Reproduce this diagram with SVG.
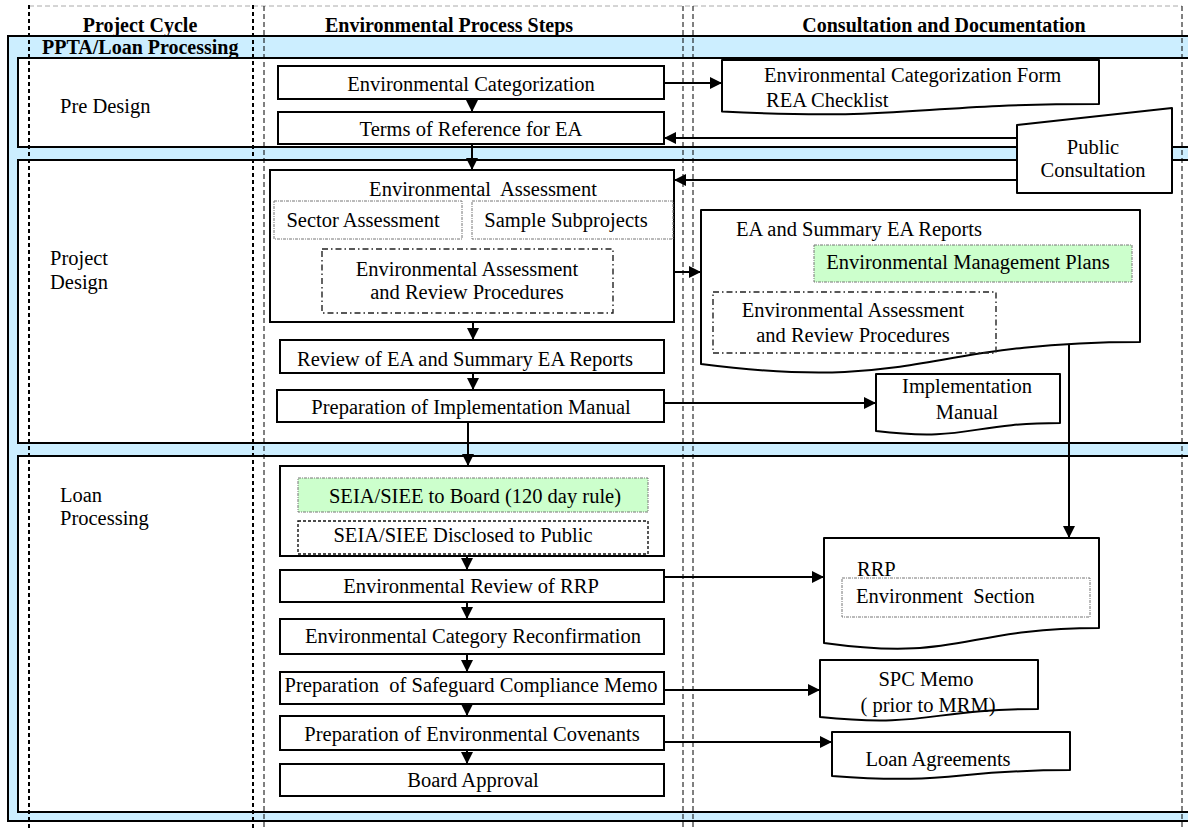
<svg xmlns="http://www.w3.org/2000/svg" width="1188" height="829" viewBox="0 0 1188 829">
  <style>
    .t { font-family: "Liberation Serif", "Times New Roman", serif; font-size: 20.5px; fill: #000; }
    .c { text-anchor: middle; }
    .h { font-weight: bold; font-size: 20px; }
    .band { fill: #cceeff; stroke: #000; stroke-width: 2; }
    .lane { fill: #fff; stroke: #000; stroke-width: 2; }
    .box { fill: #fff; stroke: #000; stroke-width: 2; }
    .doc { fill: #fff; stroke: #000; stroke-width: 2; stroke-linejoin: round; }
    .dot { fill: none; stroke: #777; stroke-width: 1; stroke-dasharray: 3 1 1 1; }
    .dotg { fill: #ccffcc; stroke: #777; stroke-width: 1; stroke-dasharray: 3 1 1 1; }
    .dash { fill: none; stroke: #222; stroke-width: 1.4; stroke-dasharray: 6 3 1.5 3; }
    .dash2 { fill: none; stroke: #111; stroke-width: 1.4; stroke-dasharray: 3 2; }
    .vthick { stroke: #000; stroke-width: 2; stroke-dasharray: 4 3; fill: none; }
    .vthin { stroke: #000; stroke-width: 1; stroke-dasharray: 5 3; fill: none; }
    .conn { stroke: #000; stroke-width: 2; fill: none; }
  </style>
  <defs>
    <marker id="arr" markerUnits="userSpaceOnUse" markerWidth="12" markerHeight="12" refX="12" refY="6" orient="auto">
      <path d="M0,0 L12,6 L0,12 Z" fill="#000"/>
    </marker>
  </defs>

  <!-- swimlane frame -->
  <g id="frame">
    <rect class="band" x="8" y="36" width="1200" height="785"/>
    <rect class="lane" x="18" y="58" width="1200" height="89"/>
    <rect class="lane" x="18" y="160" width="1200" height="283"/>
    <rect class="lane" x="18" y="456" width="1200" height="356"/>
    <text class="t h" x="42" y="54">PPTA/Loan Processing</text>
  </g>

  <!-- column headers -->
  <g id="headers">
    <line x1="29" y1="6" x2="1182" y2="6" stroke="#aaa" stroke-width="1" stroke-dasharray="5 3"/>
    <text class="t h c" x="140" y="32">Project Cycle</text>
    <text class="t h c" x="449" y="32">Environmental Process Steps</text>
    <text class="t h c" x="944" y="32">Consultation and Documentation</text>
  </g>

  <!-- stage labels -->
  <g id="stage-pre-design"><text class="t" x="60" y="113">Pre Design</text></g>
  <g id="stage-project-design">
    <text class="t" x="50" y="265">Project</text>
    <text class="t" x="50" y="289">Design</text>
  </g>
  <g id="stage-loan-processing">
    <text class="t" x="60" y="502">Loan</text>
    <text class="t" x="60" y="525">Processing</text>
  </g>

  <!-- process steps -->
  <g id="env-categorization">
    <rect class="box" x="278" y="66" width="386" height="33"/>
    <text class="t c" x="471" y="91">Environmental Categorization</text>
  </g>
  <g id="terms-of-reference">
    <rect class="box" x="278" y="112" width="386" height="32"/>
    <text class="t c" x="471" y="136">Terms of Reference for EA</text>
  </g>
  <g id="env-assessment">
    <rect class="box" x="270" y="170" width="404" height="152"/>
    <text class="t c" x="483" y="196" xml:space="preserve">Environmental  Assessment</text>
    <rect class="dot" x="274" y="201" width="188" height="38"/>
    <text class="t c" x="363" y="227">Sector Assessment</text>
    <rect class="dot" x="472" y="201" width="201" height="38"/>
    <text class="t c" x="566" y="227">Sample Subprojects</text>
    <rect class="dash" x="322" y="249" width="291" height="64"/>
    <text class="t c" x="467" y="276">Environmental Assessment</text>
    <text class="t c" x="467" y="299">and Review Procedures</text>
  </g>
  <g id="review-ea">
    <rect class="box" x="280" y="340" width="384" height="33"/>
    <text class="t c" x="465" y="366">Review of EA and Summary EA Reports</text>
  </g>
  <g id="prep-impl-manual">
    <rect class="box" x="277" y="390" width="387" height="32"/>
    <text class="t c" x="471" y="414">Preparation of Implementation Manual</text>
  </g>
  <g id="seia-siee">
    <rect class="box" x="280" y="466" width="384" height="90"/>
    <rect class="dotg" x="298" y="478" width="350" height="34"/>
    <text class="t c" x="475" y="503">SEIA/SIEE to Board (120 day rule)</text>
    <rect class="dash2" x="298" y="521" width="350" height="33"/>
    <text class="t c" x="463" y="542">SEIA/SIEE Disclosed to Public</text>
  </g>
  <g id="env-review-rrp">
    <rect class="box" x="280" y="570" width="384" height="32"/>
    <text class="t c" x="471" y="593">Environmental Review of RRP</text>
  </g>
  <g id="category-reconfirmation">
    <rect class="box" x="280" y="619" width="384" height="35"/>
    <text class="t c" x="473" y="643">Environmental Category Reconfirmation</text>
  </g>
  <g id="safeguard-memo">
    <rect class="box" x="280" y="672" width="384" height="32"/>
    <text class="t c" x="471" y="692" xml:space="preserve">Preparation  of Safeguard Compliance Memo</text>
  </g>
  <g id="env-covenants">
    <rect class="box" x="280" y="716" width="384" height="34"/>
    <text class="t c" x="472" y="741">Preparation of Environmental Covenants</text>
  </g>
  <g id="board-approval">
    <rect class="box" x="280" y="764" width="384" height="32"/>
    <text class="t c" x="473" y="787">Board Approval</text>
  </g>

  <!-- consultation and documentation -->
  <g id="categorization-form">
    <path class="doc" d="M722,60 H1099 V104 C910,104 910,121 722,111.5 Z"/>
    <text class="t" x="764" y="82">Environmental Categorization Form</text>
    <text class="t" x="766" y="107">REA Checklist</text>
  </g>
  <g id="public-consultation">
    <path class="doc" d="M1017,125 L1172,108 V193 H1017 Z"/>
    <text class="t c" x="1093" y="154">Public</text>
    <text class="t c" x="1093" y="177">Consultation</text>
  </g>
  <g id="ea-reports">
    <path class="doc" d="M701,210 H1140 V342 C920,342 920,392 701,364 Z"/>
    <text class="t" x="736" y="236">EA and Summary EA Reports</text>
    <rect class="dotg" x="814" y="245" width="318" height="37"/>
    <text class="t c" x="968" y="269">Environmental Management Plans</text>
    <rect class="dash" x="713" y="292" width="283" height="61"/>
    <text class="t c" x="853" y="317">Environmental Assessment</text>
    <text class="t c" x="853" y="342">and Review Procedures</text>
  </g>
  <g id="implementation-manual">
    <path class="doc" d="M876,374 H1060 V423 C968,423 968,442 876,431 Z"/>
    <text class="t c" x="967" y="393">Implementation</text>
    <text class="t c" x="967" y="419">Manual</text>
  </g>
  <g id="rrp">
    <path class="doc" d="M824,538 H1099 V628 C961,628 961,662 824,643 Z"/>
    <text class="t" x="857" y="576">RRP</text>
    <rect class="dot" x="842" y="578" width="248" height="39"/>
    <text class="t" x="856" y="603" xml:space="preserve">Environment  Section</text>
  </g>
  <g id="spc-memo">
    <path class="doc" d="M820,660 H1038 V709 C929,709 929,728 820,717 Z"/>
    <text class="t c" x="926" y="686">SPC Memo</text>
    <text class="t c" x="928" y="712">( prior to MRM)</text>
  </g>
  <g id="loan-agreements">
    <path class="doc" d="M832,732 H1070 V770 C951,770 951,785 832,776 Z"/>
    <text class="t c" x="938" y="766">Loan Agreements</text>
  </g>

  <!-- connectors -->
  <g id="connectors">
    <line class="conn" x1="472" y1="99" x2="472" y2="112" marker-end="url(#arr)"/>
    <line class="conn" x1="472" y1="144" x2="472" y2="170" marker-end="url(#arr)"/>
    <line class="conn" x1="473" y1="322" x2="473" y2="340" marker-end="url(#arr)"/>
    <line class="conn" x1="473" y1="373" x2="473" y2="390" marker-end="url(#arr)"/>
    <line class="conn" x1="468" y1="422" x2="468" y2="466" marker-end="url(#arr)"/>
    <line class="conn" x1="467" y1="556" x2="467" y2="570" marker-end="url(#arr)"/>
    <line class="conn" x1="467" y1="602" x2="467" y2="619" marker-end="url(#arr)"/>
    <line class="conn" x1="467" y1="654" x2="467" y2="672" marker-end="url(#arr)"/>
    <line class="conn" x1="467" y1="704" x2="467" y2="716" marker-end="url(#arr)"/>
    <line class="conn" x1="467" y1="750" x2="467" y2="764" marker-end="url(#arr)"/>
    <line class="conn" x1="664" y1="83" x2="722" y2="83" marker-end="url(#arr)"/>
    <line class="conn" x1="1017" y1="138" x2="664" y2="138" marker-end="url(#arr)"/>
    <line class="conn" x1="1017" y1="180" x2="674" y2="180" marker-end="url(#arr)"/>
    <line class="conn" x1="674" y1="272" x2="701" y2="272" marker-end="url(#arr)"/>
    <line class="conn" x1="664" y1="403" x2="876" y2="403" marker-end="url(#arr)"/>
    <line class="conn" x1="1069" y1="344" x2="1069" y2="538" marker-end="url(#arr)"/>
    <line class="conn" x1="664" y1="577" x2="824" y2="577" marker-end="url(#arr)"/>
    <line class="conn" x1="664" y1="690" x2="820" y2="690" marker-end="url(#arr)"/>
    <line class="conn" x1="664" y1="742" x2="832" y2="742" marker-end="url(#arr)"/>
  </g>

  <!-- column guides -->
  <g id="column-guides">
    <line class="vthick" x1="29" y1="5" x2="29" y2="829"/>
    <line class="vthick" x1="253" y1="5" x2="253" y2="829"/>
    <line class="vthin" x1="264" y1="6" x2="264" y2="829"/>
    <line class="vthin" x1="683" y1="6" x2="683" y2="829"/>
    <line class="vthin" x1="693" y1="6" x2="693" y2="829"/>
    <line class="vthin" x1="1182" y1="6" x2="1182" y2="829"/>
  </g>
</svg>
